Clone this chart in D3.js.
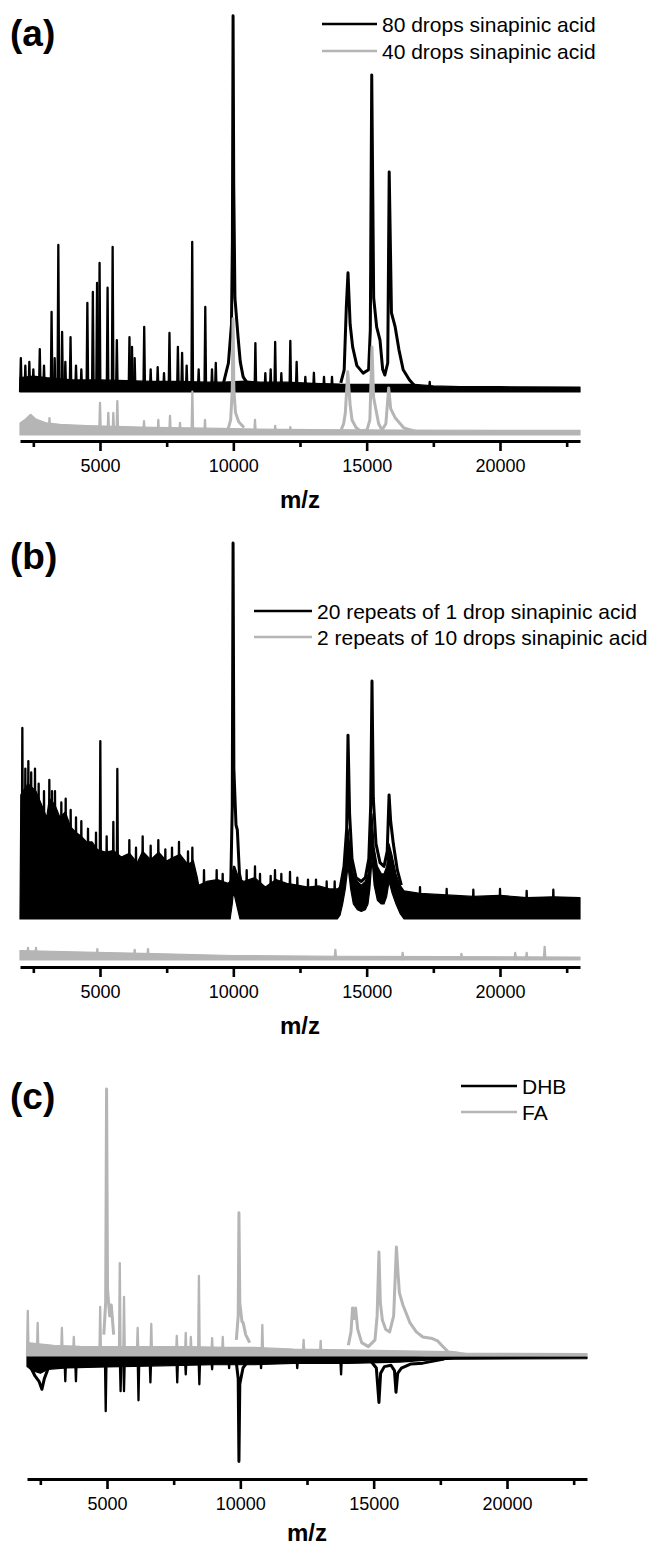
<!DOCTYPE html>
<meta charset="utf-8">
<style>
body { margin: 0; background: #fff; }
svg text { font-family: 'Liberation Sans', Arial, sans-serif; fill: #000; }
.tag { font-size: 37px; font-weight: bold; }
.xlabel { font-size: 24px; font-weight: bold; }
.legendLabel { font-size: 21px; }
</style>
<body>
<script src="https://d3js.org/d3.v7.min.js"></script>
<script>

const mzDomain = [2000, 23000],
      majorTicks = [5000, 10000, 15000, 20000],
      minorTicks = [2500, 7500, 12500, 17500, 22500];

const black = "#000", gray = "#b5b5b5";

// ---- (a) 80 drops (black), relative intensity above its own baseline
const a80Spikes = [[2032, 9], [2200, 7], [2350, 8], [2500, 6], [2742, 11.4], [2900, 7], [3184, 21.3], [3300, 9],
  [3437, 39.1], [3579, 16], [3700, 8], [3895, 14.6], [4100, 7], [4300, 6], [4526, 23.7], [4732, 26.6],
  [4890, 29], [4984, 34.3], [5284, 27.7], [5474, 38.6], [5632, 13.8], [6105, 14.6], [6200, 12], [6300, 9],
  [6658, 17.3], [6900, 6], [7163, 6.6], [7400, 5], [7605, 15.7], [7921, 12], [8079, 10.4], [8250, 7],
  [8458, 39.9], [8700, 6], [8948, 22.6], [9200, 6], [9342, 7.7], [10827, 13], [11200, 5], [11400, 6],
  [11569, 13.3], [11800, 5], [12137, 13.6], [12374, 8], [12700, 4], [13021, 5.1], [13400, 4], [13700, 4],
  [17364, 2.7]];
const a80Profile = [[9600, 1.5], [9816, 7.7], [9930, 18], [9965, 40], [9990, 100], [10015, 55], [10060, 25],
  [10180, 14.4], [10260, 8], [10369, 4], [10550, 2], null,
  [14030, 2.4], [14157, 5.9], [14237, 22.6], [14300, 31.7], [14380, 18], [14474, 12], [14632, 7], [14868, 5],
  [15073, 5.9], [15137, 16.5], [15190, 84.3], [15263, 25], [15374, 17.3], [15500, 13.8], [15600, 6],
  [15680, 4.5], [15790, 7.7], [15845, 58.5], [15930, 21], [16069, 17.3], [16211, 11.2], [16369, 5.9],
  [16606, 3.2], [16842, 1.3]];
const a80Band = [[2000, 0, 3.8], [2500, 0, 4.2], [3000, 0, 3.8], [3500, 0, 3.5], [4000, 0, 3.2], [5000, 0, 3.2],
  [6000, 0, 3], [7000, 0, 2.8], [8000, 0, 2.8], [9000, 0, 2.6], [9600, 0, 2.6], [10500, 0, 2.9], [11000, 0, 2.6],
  [12000, 0, 2.6], [13000, 0, 2.3], [14000, 0, 2.1], [16800, 0, 2], [17500, 0, 1.6], [18500, 0, 1.4],
  [20000, 0, 1.4], [23000, 0, 1.3]];

// ---- (a) 40 drops (gray)
const a40Spikes = [[3105, 4.5], [5000, 8.5], [5312, 5.9], [5500, 5.9], [5650, 9], [6650, 3.7], [7187, 4],
  [7625, 5.1], [8000, 3.2], [8463, 11.5], [8937, 4], [10812, 4], [11569, 2.4], [12137, 2.1]];
const a40Profile = [[9800, 1.5], [9900, 4], [9960, 12], [9990, 30.9], [10020, 12], [10080, 6], [10200, 3.5],
  [10400, 2], null,
  [14050, 1.5], [14137, 3], [14200, 5.9], [14290, 16.8], [14380, 8], [14450, 4], [14600, 2], [14762, 1],
  [15012, 1.3], [15120, 4], [15200, 23.4], [15260, 10], [15362, 6.2], [15450, 3], [15575, 1.3], [15720, 3],
  [15826, 12.5], [15900, 7], [16075, 4.5], [16388, 1.9], [17000, 0.6]];
const a40Band = [[2000, 0, 3.2], [2200, 0, 4.2], [2400, 0, 5.5], [2600, 0, 4.2], [3000, 0, 3.2], [3500, 0, 2.8],
  [4500, 0, 2.5], [5500, 0, 2.3], [7000, 0, 2], [9000, 0, 1.8], [10500, 0, 1.6], [13000, 0, 1.4],
  [16500, 0, 1.3], [20000, 0, 1.2], [23000, 0, 1.2]];

// ---- (b) 20 repeats of 1 drop (black)
const b20Spikes = [[2088, 50.8], [2200, 40], [2313, 42], [2420, 39], [2562, 40], [2700, 36], [2900, 34],
  [3100, 37], [3200, 34], [3312, 34], [3550, 31], [3713, 32], [3900, 29], [4100, 27], [4300, 26],
  [4550, 24], [4850, 23], [5012, 47.3], [5250, 22], [5500, 25.8], [5650, 39.9], [6100, 21], [6350, 19],
  [6600, 22], [6900, 19.5], [7187, 21], [7450, 18.5], [7700, 19], [7962, 20.5], [8300, 18], [8463, 19],
  [8900, 13], [9375, 13], [9600, 12], [10500, 13], [10812, 14], [11000, 12], [11400, 11.5], [11562, 13],
  [11800, 12], [12125, 12.5], [12400, 11], [12800, 10.5], [13100, 10.5], [13500, 10], [13800, 10], [17000, 8.5],
  [18000, 8], [19000, 7.8], [20000, 8], [21000, 7.5], [22000, 7.8]];
const b20Profile = [[9900, 8], [9960, 30], [9990, 100], [10020, 40], [10100, 25], [10150, 23.7], [10230, 12],
  [10350, 8], null,
  [14000, 8], [14150, 14], [14250, 24], [14300, 48.9], [14360, 28], [14450, 16], [14600, 11], [14800, 10],
  [14950, 11], [15080, 16], [15150, 30], [15200, 63.3], [15250, 32], [15350, 20], [15500, 15], [15650, 14],
  [15770, 18], [15840, 33], [15900, 26], [16000, 20], [16150, 13], [16300, 9]];
const b20Band = [[2000, 0, 0], [2030, 0, 33], [2300, 0, 36], [2600, 0, 34], [2800, 0, 30.5],
  [3000, 0, 27], [3100, 0, 32], [3300, 0, 30.5], [3500, 0, 27], [3700, 0, 28.5], [3900, 0, 24.5],
  [4100, 0, 23], [4300, 0, 22], [4500, 0, 20.5], [4700, 0, 20.5], [4900, 0, 18.5], [5200, 0, 17.8],
  [5500, 0, 18.2], [5800, 0, 16.5], [6100, 0, 17.5], [6400, 0, 15], [6600, 0, 18], [6900, 0, 15.8],
  [7200, 0, 17.8], [7500, 0, 15.4], [7700, 0, 16.2], [8000, 0, 17.2], [8300, 0, 14.5], [8500, 0, 15.5],
  [8650, 0, 11], [8700, 0, 9], [9000, 0, 10], [9400, 0, 10.5], [9800, 0, 9.5],
  [9880, 0, 10], [9960, 4, 12], [10000, 7, 14], [10050, 6, 14], [10150, 3, 12], [10250, 0, 10.5], [10400, 0, 10],
  [10800, 0, 11], [11200, 0, 8.5], [11600, 0, 10.5], [12000, 0, 9.5], [12400, 0, 9], [12800, 0, 8.5],
  [13200, 0, 8.8], [13600, 0, 8], [13900, 0, 8], [14000, 1, 8.5], [14100, 4, 11], [14200, 8, 16],
  [14300, 14, 24], [14400, 8, 17], [14500, 4, 12], [14650, 2.5, 10], [14800, 2, 9], [14950, 2.5, 10],
  [15050, 4, 12], [15120, 8, 18], [15200, 16, 28], [15280, 9, 19], [15400, 5, 14], [15550, 4, 12],
  [15650, 4, 12], [15750, 6, 14], [15840, 10, 20], [15950, 7, 17], [16100, 4, 12], [16250, 1.5, 9],
  [16400, 0, 7.5], [17000, 0, 6.8], [18000, 0, 6.4], [19000, 0, 6], [20000, 0, 6.3], [21000, 0, 5.7],
  [22000, 0, 5.9], [23000, 0, 5.7]];

// ---- (b) 2 repeats of 10 drops (gray)
const b2Spikes = [[2300, 3.2], [2600, 3.2], [4900, 2.9], [6300, 2.7], [6800, 2.9], [13826, 2.7],
  [16348, 1.9], [18553, 1.6], [20571, 1.9], [21000, 1.9], [21674, 3.5]];
const b2Profile = [];
const b2Band = [[2000, 0, 2.5], [4000, 0, 2.2], [7000, 0, 1.7], [10000, 0, 1.2], [14000, 0, 1],
  [18000, 0, 0.9], [23000, 0, 0.8]];

// ---- (c) DHB (black, drawn downward)
const dhbSpikes = [[3436, -9], [3835, -9], [4952, -20.2], [5510, -12.7], [5638, -12.7], [6181, -16.1],
  [6628, -9.4], [7634, -9.4], [7953, -6.4], [8463, -10.1], [8942, -4.5], [9580, -4.1], [10777, -4.1],
  [12134, -4.1], [13778, -6.4]];
const dhbProfile = [[2100, -3], [2300, -7], [2450, -9], [2558, -12], [2650, -8], [2800, -4], null,
  [9850, -2], [9920, -8], [9948, -39], [9980, -10], [10100, -4], [10250, -2], null,
  [14900, -1.5], [15100, -4], [15198, -16.9], [15260, -6], [15400, -3.5], [15650, -3], [15780, -5],
  [15837, -13.1], [15900, -6], [16040, -4.1], [16400, -2.5], [16842, -2.2], [17640, -0.7]];
const dhbBand = [[2000, -3.5, 0.3], [2200, -5, 0.3], [2500, -6, 0.3], [2800, -4.5, 0.3], [3500, -4, 0.3],
  [5000, -3.6, 0.3], [7000, -3.2, 0.3], [9000, -2.8, 0.3], [10500, -2.8, 0.3], [12000, -2.3, 0.3],
  [14000, -2.3, 0.3], [16000, -1.8, 0.3], [17000, -1.1, 0.2], [18000, -0.7, 0.2], [23000, -0.5, 0.2]];

// ---- (c) FA (gray)
const faSpikes = [[2030, 16.9], [2400, 12.4], [3308, 10.5], [3755, 7.1], [4745, 18.4], [5479, 34.8],
  [5638, 22.1], [6149, 10.5], [6660, 12], [7617, 7.5], [7953, 8.6], [8144, 7.1], [8447, 30], [8942, 6.7],
  [9341, 7.1], [10825, 11.6], [12373, 6], [13012, 5.6]];
const faProfile = [[4880, 8], [4950, 20], [4984, 100], [5020, 25], [5100, 15], [5160, 19.1], [5250, 8], null,
  [9850, 6], [9920, 15], [9948, 53.6], [9980, 20], [10060, 13], [10107, 12.4], [10200, 8], [10350, 5], null,
  [14050, 4], [14150, 9], [14209, 18], [14265, 14], [14321, 18], [14400, 10], [14550, 5], [14800, 3.5],
  [15050, 6], [15130, 15], [15198, 38.9], [15250, 20], [15326, 13.5], [15450, 10], [15600, 9], [15750, 15],
  [15853, 40.8], [15920, 30], [15965, 23.6], [16100, 19], [16363, 12.4], [16600, 9], [16842, 7.1],
  [17200, 6.5], [17400, 5.6], [17600, 3.5], [17800, 1.5], [18200, 1]];
const faBand = [[2000, 0, 5], [3000, 0, 4], [4000, 0, 3.6], [6000, 0, 3.5], [8000, 0, 3.5], [9500, 0, 3.2],
  [10500, 0, 3.2], [12000, 0, 2.6], [14000, 0, 2.3], [17800, 0, 1.6], [18500, 0, 1], [23000, 0, 0.9]];

const legendA = ["80 drops sinapinic acid", "40 drops sinapinic acid"],
      legendB = ["20 repeats of 1 drop sinapinic acid", "2 repeats of 10 drops sinapinic acid"],
      legendC = ["DHB", "FA"];

// layout of the three stacked panels
const panels = [
  {tag: "(a)", tagY: 46, x0: 20, x1: 580, yTop: 16, yAxis: 441, yDomain: [-1.6, 111.4], labelGap: 67,
   legend: {names: legendA, x0: 322, x1: 377, y: [24, 51]},
   traces: [{spikes: a80Spikes, profile: a80Profile, band: a80Band, color: black, offset: 11.44},
            {spikes: a40Spikes, profile: a40Profile, band: a40Band, color: gray, offset: 0}]},
  {tag: "(b)", tagY: 569, x0: 20, x1: 580, yTop: 543, yAxis: 967, yDomain: [-1.86, 110.9], labelGap: 67,
   legend: {names: legendB, x0: 254, x1: 312, y: [611, 637]},
   traces: [{spikes: b20Spikes, profile: b20Profile, band: b20Band, color: black, offset: 10.9},
            {spikes: b2Spikes, profile: b2Profile, band: b2Band, color: gray, offset: 0}]},
  {tag: "(c)", tagY: 1109, x0: 27, x1: 587, yTop: 1089, yAxis: 1479, yDomain: [-46.1, 100], labelGap: 62,
   legend: {names: legendC, x0: 461, x1: 517, y: [1086, 1112]},
   traces: [{spikes: dhbSpikes, profile: dhbProfile, band: dhbBand, color: black, offset: -0.5},
            {spikes: faSpikes, profile: faProfile, band: faBand, color: gray, offset: 0}]}
];

const spikeHalf = 30; // half base width of a narrow peak, in m/z

const svg = d3.select("body").append("svg")
    .attr("width", 657)
    .attr("height", 1548);

panels.forEach(p => {
  const x = d3.scaleLinear().domain(mzDomain).range([p.x0, p.x1]),
        y = d3.scaleLinear().domain(p.yDomain).range([p.yAxis, p.yTop]),
        g = svg.append("g");

  p.traces.forEach(t => {
    const line = d3.line()
        .defined(d => d)
        .x(d => x(d[0]))
        .y(d => y(d[1] + t.offset));
    const area = d3.area()
        .x(d => x(d[0]))
        .y0(d => y(d[1] + t.offset))
        .y1(d => y(d[2] + t.offset));

    const tg = g.append("g")
        .attr("fill", "none")
        .attr("stroke", t.color)
        .attr("stroke-linejoin", "round");

    tg.append("path")
        .datum(t.band)
        .attr("d", area)
        .attr("fill", t.color)
        .attr("stroke-width", 1.2);

    tg.append("path")
        .datum(t.profile)
        .attr("stroke-width", 3)
        .attr("d", line);

    tg.selectAll(".spike")
      .data(t.spikes)
      .join("path")
        .attr("class", "spike")
        .attr("stroke-width", 2.3)
        .attr("d", d => line([[d[0] - spikeHalf, 0], d, [d[0] + spikeHalf, 0]]));
  });

  // x axis: labelled major ticks plus unlabelled minor ticks
  const ax = g.append("g")
      .attr("transform", `translate(0,${p.yAxis})`)
      .call(d3.axisBottom(x).tickValues(majorTicks).tickFormat(d3.format("d"))
        .tickSize(10).tickPadding(8).tickSizeOuter(0));
  g.append("g")
      .attr("transform", `translate(0,${p.yAxis})`)
      .call(d3.axisBottom(x).tickValues(minorTicks).tickSize(6).tickFormat("").tickSizeOuter(0))
      .call(s => s.select(".domain").remove());
  g.selectAll(".domain").attr("stroke", "#000").attr("stroke-width", 3);
  g.selectAll(".tick line").attr("stroke", "#000").attr("stroke-width", 2.6);
  ax.selectAll(".tick text")
      .attr("fill", "#000")
      .style("font-size", "18px")
      .style("font-family", "'Liberation Sans', Arial, sans-serif");

  g.append("text")
      .attr("class", "xlabel")
      .attr("x", (p.x0 + p.x1) / 2)
      .attr("y", p.yAxis + p.labelGap)
      .attr("text-anchor", "middle")
      .text("m/z");

  g.append("text")
      .attr("class", "tag")
      .attr("x", 10)
      .attr("y", p.tagY)
      .text(p.tag);

  // legend
  const lg = g.selectAll(".legendRow")
    .data(p.legend.names)
    .join("g")
      .attr("class", "legendRow")
      .attr("transform", (d, i) => `translate(0,${p.legend.y[i]})`);
  lg.append("line")
      .attr("x1", p.legend.x0)
      .attr("x2", p.legend.x1)
      .attr("stroke", (d, i) => p.traces[i].color)
      .attr("stroke-width", 2.5);
  lg.append("text")
      .attr("class", "legendLabel")
      .attr("x", p.legend.x1 + 5)
      .attr("y", 8)
      .text(d => d);
});

</script>
